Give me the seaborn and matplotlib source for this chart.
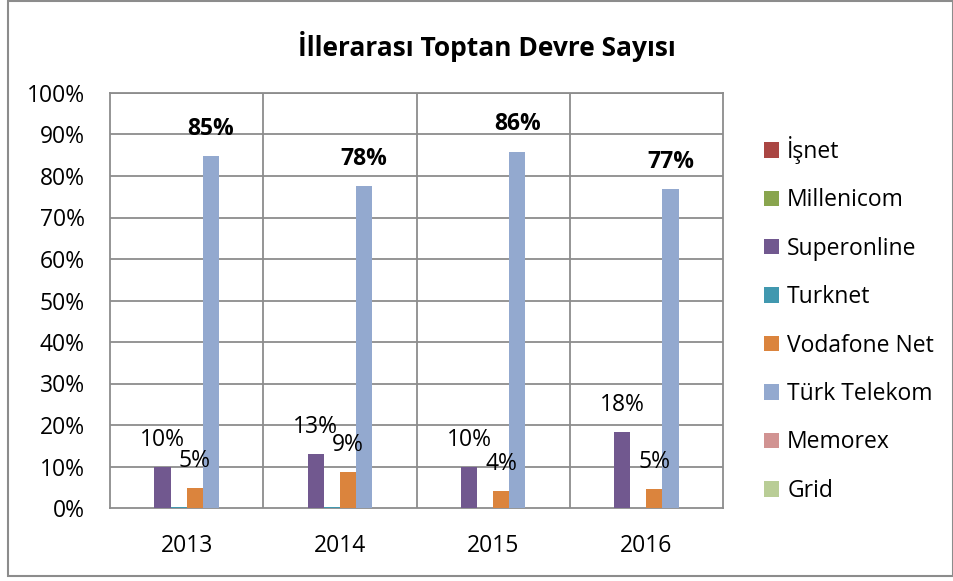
import pandas as pd
import matplotlib.pyplot as plt
import seaborn as sns
from matplotlib.patches import Patch, Rectangle

# Data (share of inter-city wholesale circuits, %)
years = ["2013", "2014", "2015", "2016"]
series = ["İşnet", "Millenicom", "Superonline", "Turknet",
          "Vodafone Net", "Türk Telekom", "Memorex", "Grid"]
isnet = [0, 0, 0, 0]
millenicom = [0, 0, 0, 0]
superonline = [9.8, 13.1, 9.8, 18.2]
turknet = [0.25, 0.25, 0, 0]
vodafone = [4.7, 8.6, 4.0, 4.6]
turk_telekom = [84.7, 77.6, 85.9, 76.9]
memorex = [0, 0, 0, 0]
grid = [0, 0, 0, 0]
colors = ["#AA4643", "#89A54E", "#71588F", "#4198AF",
          "#DB843D", "#93A9CF", "#D19392", "#B9CD96"]
labelled = {"Superonline": "normal", "Vodafone Net": "normal", "Türk Telekom": "bold"}

values = [isnet, millenicom, superonline, turknet, vodafone, turk_telekom, memorex, grid]
df = pd.DataFrame([(y, s, v[i]) for s, v in zip(series, values) for i, y in enumerate(years)],
                  columns=["Year", "Operator", "Share"])

plt.rcParams["font.family"] = ["Open Sans", "DejaVu Sans"]
fs = 16.5

fig = plt.figure(figsize=(9.54, 5.81), dpi=100)
W, H = 954, 581
ax = fig.add_axes([110 / W, 1 - 508 / H, (723 - 110) / W, (508 - 93) / H])

sns.barplot(data=df, x="Year", y="Share", hue="Operator", hue_order=series,
            palette=colors, saturation=1, width=0.84, errorbar=None,
            linewidth=0, legend=False, ax=ax, zorder=3)

ax.set_ylim(0, 100)
ax.set_xlim(-0.5, 3.5)
ax.set_yticks(range(0, 101, 10))
ax.set_yticklabels([f"{t}%" for t in range(0, 101, 10)])
ax.set_xlabel("")
ax.set_ylabel("")
ax.tick_params(axis="both", length=0, labelsize=fs)
ax.tick_params(axis="y", pad=18)
ax.tick_params(axis="x", pad=19)

# grid like excel: horizontal lines + category separators
gcol = "#8C8C8C"
for t in range(10, 101, 10):
    ax.axhline(t, color=gcol, lw=1.3, zorder=1)
for xb in [0.5, 1.5, 2.5]:
    ax.axvline(xb, color=gcol, lw=1.3, zorder=1)
for sp in ax.spines.values():
    sp.set_color(gcol)
    sp.set_linewidth(1.3)

# data labels
for cont, name in zip(ax.containers, series):
    if name not in labelled:
        continue
    for bar in cont:
        h = bar.get_height()
        ax.annotate(f"{h:.0f}%", (bar.get_x() + bar.get_width() / 2, h),
                    xytext=(0, 19.5), textcoords="offset points",
                    ha="center", va="center", fontsize=fs,
                    fontweight=labelled[name], zorder=5)

fig.text(487 / W, 1 - 46 / H, "İllerarası Toptan Devre Sayısı",
         ha="center", va="center", fontsize=19, fontweight="bold")

handles = [Patch(facecolor=c, edgecolor="none") for c in colors]
fig.legend(handles, series, loc="upper left", bbox_to_anchor=(764 / W, 1 - 136 / H),
           frameon=False, fontsize=fs, handlelength=0.66, handleheight=0.66,
           handletextpad=0.35, labelspacing=1.065, borderpad=0, borderaxespad=0)

# outer chart border
fig.patches.append(Rectangle((8 / W, 1 - 576 / H), (953 - 8) / W, (576 - 1) / H,
                             transform=fig.transFigure, fill=False,
                             edgecolor="#8C8C8C", lw=1.5))

fig.savefig("out.png", dpi=100)
